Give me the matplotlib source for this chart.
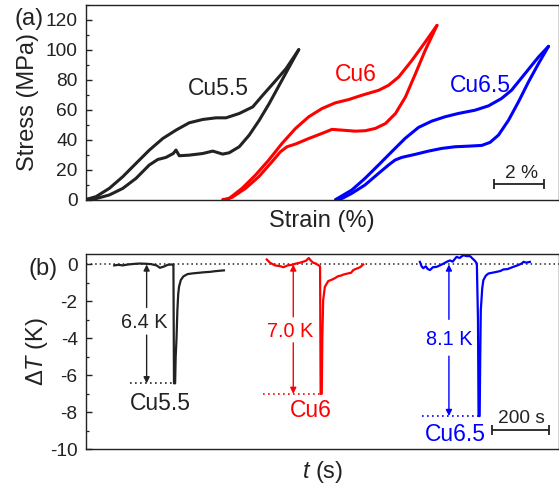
import matplotlib
matplotlib.use("Agg")
import matplotlib.pyplot as plt
from matplotlib.ticker import MultipleLocator

plt.rcParams['font.family'] = ['Liberation Sans', 'DejaVu Sans']
plt.rcParams['mathtext.fontset'] = 'custom'
plt.rcParams['mathtext.rm'] = 'Liberation Sans'
plt.rcParams['mathtext.it'] = 'Liberation Sans:italic'

# ---------------- data: panel (a) stress-strain ----------------
samples = ["Cu5.5", "Cu6", "Cu6.5"]
colors = ["#222222", "#ff0000", "#0000ff"]
strain_offset = [0.0, 5.47, 9.99]

cu55_load_strain = [0, 0.4, 0.93, 1.47, 2.0, 2.53, 3.07, 3.6, 4.13, 4.67, 5.2, 5.6, 6.13, 6.67, 7.07, 7.6, 8.0, 8.51]
cu55_load_stress = [0, 1.9, 7.4, 15.2, 24.1, 32.9, 40.7, 46.3, 51.2, 53.4, 54.5, 54.5, 57.4, 61.8, 69.6, 79.6, 87.3, 100]
cu55_unl_strain = [8.51, 8.13, 7.73, 7.33, 6.93, 6.53, 6.13, 5.73, 5.47, 5.07, 4.67, 4.13, 3.73, 3.6, 3.49, 3.2, 2.87, 2.53, 2.0, 1.47, 0.93, 0.4, 0]
cu55_unl_stress = [100, 88.5, 76.3, 64.1, 52.9, 43.0, 35.2, 31.2, 30.3, 32.3, 30.7, 29.6, 29.2, 33.0, 30.7, 28.1, 26.7, 23.0, 14.1, 7.4, 3.0, 0.6, 0]

cu6_load_strain = [0, 0.24, 0.77, 1.31, 1.84, 2.37, 2.91, 3.44, 3.97, 4.5, 5.04, 5.57, 6.24, 6.64, 7.04, 7.57, 8.1, 8.57]
cu6_load_stress = [0, 0.5, 7.4, 16.3, 26.3, 37.4, 47.4, 55.2, 60.7, 64.5, 66.7, 69.6, 72.9, 76.3, 81.8, 92.9, 105.1, 116.2]
cu6_unl_strain = [8.57, 8.1, 7.71, 7.31, 6.91, 6.51, 6.1, 5.7, 5.3, 4.77, 4.37, 3.97, 3.44, 2.91, 2.57, 2.31, 1.97, 1.44, 0.91, 0.37, 0.1]
cu6_unl_stress = [116.2, 99.6, 84.0, 68.5, 57.4, 50.7, 47.4, 45.9, 45.6, 46.3, 46.8, 44.1, 40.7, 37.0, 35.2, 31.9, 25.2, 15.2, 7.4, 1.4, 0]

cu65_load_strain = [0, 0.64, 1.17, 1.71, 2.24, 2.77, 3.31, 3.84, 4.37, 4.9, 5.57, 6.11, 6.63, 7.03, 7.57, 8.11, 8.51]
cu65_load_stress = [0, 6.3, 14.1, 23.0, 31.9, 40.7, 48.1, 52.3, 55.2, 57.4, 59.6, 62.5, 67.4, 72.9, 84.0, 95.1, 102.2]
cu65_unl_strain = [8.51, 8.11, 7.71, 7.31, 6.91, 6.51, 6.17, 5.84, 5.31, 4.77, 4.24, 3.71, 3.17, 2.64, 2.37, 2.11, 1.71, 1.17, 0.64, 0.24, 0]
cu65_unl_stress = [102.2, 90.7, 78.5, 65.2, 52.9, 43.0, 38.1, 36.1, 35.6, 35.2, 34.1, 32.3, 30.1, 28.1, 26.3, 23.0, 17.4, 9.7, 4.1, 0.6, 0]

stress_ticks = [0, 20, 40, 60, 80, 100, 120]

# ---------------- data: panel (b) temperature change ----------------
cu55_t = [100, 115, 130, 150, 170, 190, 210, 230, 250, 262, 275, 290, 305, 310, 312, 316, 318, 321, 324, 327, 330, 336, 345, 360, 380, 400, 420, 440, 460, 489]
cu55_dT = [-0.05, -0.02, -0.05, 0.0, 0.03, 0.05, 0.04, 0.02, -0.05, -0.18, -0.12, -0.02, 0.0, 0.0, -6.43, -6.43, -5.0, -4.0, -2.5, -1.6, -1.2, -0.85, -0.65, -0.52, -0.48, -0.45, -0.42, -0.40, -0.36, -0.32]

cu6_t = [641, 652, 670, 690, 700, 715, 730, 745, 760, 770, 780, 790, 795, 805, 815, 825, 830, 832, 836, 838, 841, 847, 859, 877, 895, 905, 912, 930, 940, 948, 962, 972, 983]
cu6_dT = [0.27, 0.1, -0.05, -0.1, -0.15, -0.05, -0.02, 0.05, 0.1, 0.15, 0.2, 0.35, 0.25, 0.1, 0.05, -0.05, -0.1, -7.0, -7.0, -4.0, -1.93, -1.21, -0.90, -0.79, -0.63, -0.6, -0.55, -0.48, -0.45, -0.30, -0.21, -0.15, 0.0]

cu65_t = [1184, 1190, 1196, 1205, 1212, 1220, 1230, 1243, 1255, 1267, 1280, 1291, 1300, 1314, 1325, 1338, 1350, 1362, 1372, 1379, 1386, 1390, 1392, 1396, 1398, 1400, 1405, 1409, 1418, 1427, 1440, 1456, 1470, 1480, 1495, 1515, 1530, 1545, 1551, 1562, 1574]
cu65_dT = [0.14, -0.1, -0.2, -0.1, -0.25, -0.3, -0.15, -0.13, -0.05, 0.04, 0.15, 0.22, 0.15, 0.41, 0.35, 0.5, 0.45, 0.45, 0.3, 0.2, 0.05, -3.0, -8.2, -8.2, -5.0, -2.47, -1.3, -0.85, -0.6, -0.49, -0.45, -0.4, -0.35, -0.27, -0.25, -0.13, -0.05, 0.05, 0.14, 0.1, 0.14]

dT_labels = ["6.4 K", "7.0 K", "8.1 K"]
dT_ticks = [0, -2, -4, -6, -8, -10]

loops = [
    (cu55_load_strain, cu55_load_stress, cu55_unl_strain, cu55_unl_stress),
    (cu6_load_strain, cu6_load_stress, cu6_unl_strain, cu6_unl_stress),
    (cu65_load_strain, cu65_load_stress, cu65_unl_strain, cu65_unl_stress),
]
traces = [(cu55_t, cu55_dT), (cu6_t, cu6_dT), (cu65_t, cu65_dT)]

W, H = 559, 491
fig = plt.figure(figsize=(W / 100, H / 100), dpi=100)

def fx(px):
    return px / W

def fy(py):
    return 1 - py / H

L, R = 86, 558.5
axa = fig.add_axes([fx(L), fy(199.5), fx(R - L), (199.5 - 4.7) / H])
axb = fig.add_axes([fx(L), fy(449.3), fx(R - L), (449.3 - 254.3) / H])

tc = "#222222"
for ax in (axa, axb):
    for s in ax.spines.values():
        s.set_linewidth(1.0)
        s.set_color(tc)
    ax.set_xticks([])
    ax.tick_params(axis='y', direction='in', length=4.5, width=1.0, labelsize=13.8,
                   colors=tc, pad=6, right=False)
    ax.tick_params(axis='y', which='minor', direction='in', length=2.5, width=0.9, colors=tc)

# ---- panel (a)
for (ls, lsig, us, usig), off, c in zip(loops, strain_offset, colors):
    axa.plot([x + off for x in ls], lsig, color=c, lw=2.2, solid_capstyle='round',
             solid_joinstyle='round')
    axa.plot([x + off for x in us], usig, color=c, lw=2.2, solid_capstyle='round',
             solid_joinstyle='round')

axa.set_xlim(0, (R - L) / 25)
axa.set_ylim(0, 130)
axa.set_yticks(stress_ticks)
axa.yaxis.set_minor_locator(MultipleLocator(10))
axa.set_ylabel("Stress (MPa)", fontsize=17, color=tc)
axa.yaxis.set_label_coords((39 - L) / (R - L), 0.5)
axa.set_xlabel("Strain (%)", fontsize=17, color=tc)
axa.xaxis.set_label_coords(0.5, -0.055)

a_label_pos = [(5.31, 69.6), (10.79, 79.1), (15.76, 71.8)]
for name, c, (x, y) in zip(samples, colors, a_label_pos):
    axa.text(x, y, name, color=c, fontsize=16.5, ha='center', va='baseline')

# scale bar 2 %
axa.errorbar([16.32 + 1.0], [10.5], xerr=[1.0], color=tc, lw=1.3, capsize=3.5, capthick=1.3)
axa.text(17.43, 14.1, "2 %", fontsize=13.8, ha='center', va='baseline', color=tc)

# ---- panel (b)
axb.set_xlim(0, (R - L) / 0.282)
axb.set_ylim(-10, 0.55)
axb.set_yticks(dT_ticks)
axb.set_yticklabels([str(v) for v in dT_ticks])
axb.yaxis.set_minor_locator(MultipleLocator(1))
axb.axhline(0, color=tc, lw=1.1, ls=(0, (1, 2)))

for (t, d), c in zip(traces, colors):
    axb.plot(t, d, color=c, lw=1.6)

arrow_t = [215, 735, 1287]
dot_start = [156, 629, 1190]
gap_top = [-2.33, -2.83, -2.97]
gap_bot = [-3.82, -4.24, -4.96]
text_pos = [(205, -3.46), (723, -3.91), (1287, -4.36)]
name_pos = [(262, -7.88), (797, -8.24), (1309, -9.55)]
for (t, d), c, at, ds, gt, gb, lab, tp, nm, npos in zip(traces, colors, arrow_t, dot_start,
                                                        gap_top, gap_bot, dT_labels, text_pos,
                                                        samples, name_pos):
    dmin = min(d)
    tmin = t[d.index(dmin)]
    axb.plot([ds, tmin], [dmin, dmin], color=c, lw=1.2, ls=(0, (1, 2)))
    ap = dict(arrowstyle='-|>', color=c, lw=1.0, mutation_scale=9, shrinkA=0, shrinkB=0)
    axb.annotate('', xy=(at, 0), xytext=(at, gt), arrowprops=ap)
    axb.annotate('', xy=(at, dmin), xytext=(at, gb), arrowprops=ap)
    axb.text(tp[0], tp[1], lab, color=c, fontsize=14.3, ha='center', va='baseline')
    axb.text(npos[0], npos[1], nm, color=c, fontsize=16.5, ha='center', va='baseline')

# scale bar 200 s
axb.errorbar([1441 + 100], [-8.96], xerr=[100], color=tc, lw=1.3, capsize=3.5, capthick=1.3)
axb.text(1545, -8.56, "200 s", fontsize=13.8, ha='center', va='baseline', color=tc)

axb.set_ylabel(r"$\Delta\mathit{T}$ (K)", fontsize=17, color=tc)
axb.yaxis.set_label_coords((50 - L) / (R - L), 0.5)
axb.set_xlabel(r"$\mathit{t}$ (s)", fontsize=17, color=tc)
axb.xaxis.set_label_coords(0.5, -0.05)

fig.text(fx(15), fy(19), "(a)", fontsize=17, ha='left', va='center', color=tc)
fig.text(fx(28), fy(268.5), "(b)", fontsize=17, ha='left', va='center', color=tc)

fig.savefig("out.png", dpi=100)
